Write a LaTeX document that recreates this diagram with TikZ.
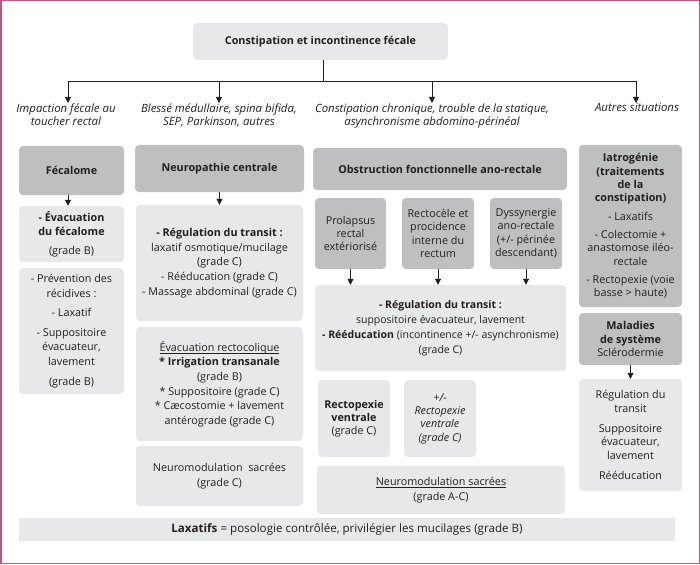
\documentclass[tikz,border=0pt]{standalone}
\usepackage{fontspec}
\setmainfont{Open Sans}
\usetikzlibrary{arrows.meta}
\definecolor{boxlight}{HTML}{E7E8E9}
\definecolor{boxdark}{HTML}{BEBFC1}
\definecolor{framecol}{HTML}{C9547A}
\definecolor{ink}{HTML}{231F20}
\newsavebox\ulbox
\newcommand\ulined[1]{\sbox\ulbox{#1}\rlap{\rule[-1.8pt]{\wd\ulbox}{.5pt}}\usebox\ulbox}
\begin{document}
\begin{tikzpicture}[x=1pt,y=-1pt,
    box/.style={rounded corners=4pt,align=center,inner sep=1pt,text=ink,font=\fontsize{10.8}{14.6}\selectfont},
    lightbox/.style={box,fill=boxlight},
    darkbox/.style={box,fill=boxdark},
    tight/.style={font=\fontsize{10.8}{13.3}\selectfont},
    arr/.style={draw=ink,line width=.8pt,-{Triangle[width=6pt,length=6pt]}},
    tag/.style={align=center,anchor=north,text=ink,font=\fontsize{11.4}{13.2}\selectfont\itshape}]
  \useasboundingbox (0,0) rectangle (700,564);
  \draw[framecol,line width=1.5pt] (0.75,0.75) rectangle (699.25,563.25);

  % top of the tree
  \node[lightbox,minimum width=255pt,minimum height=37pt] (title) at (320.5,41.5) {\textbf{Constipation et incontinence fécale}};
  \coordinate (hub) at (323,81);
  \coordinate (b1) at (68,81);
  \coordinate (b2) at (219,81);
  \coordinate (b3) at (432,81);
  \coordinate (b4) at (636,81);
  \node[tag] (lab1) at (66,100) {Impaction fécale au\\toucher rectal};
  \node[tag] (lab2) at (219,100) {Blessé médullaire, spina bifida,\\SEP, Parkinson, autres};
  \node[tag] (lab3) at (432,100) {Constipation chronique, trouble de la statique,\\asynchronisme abdomino-périnéal};
  \node[tag] (lab4) at (637,100) {Autres situations};
  \draw[ink,line width=.8pt] (title.south -| hub) -- (hub);
  \draw[ink,line width=.8pt] (b1) -- (b4);
  \draw[arr] (b1) -- ([yshift=-3pt]b1 |- lab1.north);
  \draw[arr] (b2) -- ([yshift=-3pt]b2 |- lab2.north);
  \draw[arr] (b3) -- ([yshift=-3pt]b3 |- lab3.north);
  \draw[arr] (b4) -- ([yshift=-3pt]b4 |- lab4.north);

  % fecalome
  \node[darkbox,minimum width=105pt,minimum height=49pt] (fecalome) at (71.5,170.5) {\textbf{Fécalome}};
  \node[lightbox,minimum width=105pt,minimum height=56pt] (evac) at (71.5,234) {\textbf{- Évacuation}\\\textbf{du fécalome}\\[4pt](grade B)};
  \node[lightbox,minimum width=105pt,minimum height=126pt] (prev) at (71.5,331) {- Prévention des\\récidives :\\[5pt]- Laxatif\\[5pt]- Suppositoire\\évacuateur,\\lavement\\[5pt](grade B)};
  \draw[arr] ([xshift=-3.5pt]fecalome.south) -- ([xshift=-3.5pt]fecalome.south |- evac.north);

  % neuropathie
  \node[darkbox,minimum width=169pt,minimum height=47pt] (neuro) at (219.5,168.5) {\textbf{Neuropathie centrale}};
  \node[lightbox,minimum width=167pt,minimum height=116pt] (regul) at (219.5,263) {\textbf{- Régulation du transit :}\\laxatif osmotique/mucilage\\(grade C)\\- Rééducation (grade C)\\- Massage abdominal (grade C)};
  \node[lightbox,minimum width=167pt,minimum height=114pt] (evrecto) at (219.5,384) {\ulined{Évacuation rectocolique}\\\textbf{* Irrigation transanale}\\(grade B)\\* Suppositoire (grade C)\\* Cæcostomie + lavement\\antérograde (grade C)};
  \node[lightbox,minimum width=167pt,minimum height=60pt] (neuromodC) at (219.5,476) {Neuromodulation~ sacrées\\(grade C)};
  \draw[arr] (neuro.south) -- (neuro.south |- regul.north);

  % obstruction
  \node[darkbox,minimum width=254pt,minimum height=42pt] (obstr) at (440,169) {\textbf{Obstruction fonctionnelle ano-rectale}};
  \node[darkbox,tight,minimum width=71pt,minimum height=71pt] (prolapsus) at (350.5,233.5) {Prolapsus\\rectal\\extériorisé};
  \node[darkbox,tight,minimum width=72pt,minimum height=71pt] (rectocele) at (438,233.5) {Rectocèle et\\procidence\\interne du\\rectum};
  \node[darkbox,tight,minimum width=72pt,minimum height=71pt] (dyssyn) at (526,233.5) {Dyssynergie\\ano-rectale\\(+/- périnée\\descendant)};
  \node[lightbox,font=\fontsize{10.5}{15}\selectfont,minimum width=251pt,minimum height=86pt] (regul2) at (440.5,328) {\textbf{- Régulation du transit :}\\suppositoire évacuateur, lavement\\\textbf{- Rééducation} (incontinence +/- asynchronisme)\\(grade C)};
  \node[lightbox,tight,minimum width=72pt,minimum height=77pt] (rectoA) at (354,418.5) {\textbf{Rectopexie}\\\textbf{ventrale}\\(grade C)};
  \node[lightbox,tight,minimum width=72pt,minimum height=77pt] (rectoB) at (440,418.5) {\textit{+/-}\\\textit{Rectopexie}\\\textit{ventrale}\\\textit{(grade C)}};
  \node[lightbox,minimum width=248pt,minimum height=48pt] (neuromodAC) at (441,490) {\ulined{Neuromodulation sacrées}\\(grade A-C)};
  \draw[arr] (prolapsus.south) -- (prolapsus.south |- regul2.north);
  \draw[arr] (rectocele.south) -- (rectocele.south |- regul2.north);
  \draw[arr] (dyssyn.south) -- (dyssyn.south |- regul2.north);

  % autres situations
  \node[darkbox,tight,minimum width=103pt,minimum height=162pt] (iatro) at (630.5,226) {\textbf{Iatrogénie}\\\textbf{(traitements}\\\textbf{de la}\\\textbf{constipation)}\\[5pt]- Laxatifs\\[5pt]- Colectomie +\\anastomose iléo-\\rectale\\[5pt]- Rectopexie (voie\\basse > haute)};
  \node[darkbox,tight,minimum width=103pt,minimum height=52pt] (maladies) at (630.5,339) {\textbf{Maladies}\\\textbf{de système}\\Sclérodermie};
  \node[lightbox,tight,minimum width=103pt,minimum height=112pt] (regul3) at (630.5,435) {Régulation du\\transit\\[7pt]Suppositoire\\évacuateur,\\lavement\\[7pt]Rééducation};
  \draw[arr] (maladies.south) -- (maladies.south |- regul3.north);

  % bandeau du bas
  \node[box,fill=boxlight,rounded corners=0pt,font=\fontsize{11.6}{14}\selectfont,minimum width=656pt,minimum height=23pt] (laxatifs) at (347,529.5) {\textbf{Laxatifs} = posologie contrôlée, privilégier les mucilages (grade B)};
\end{tikzpicture}
\end{document}
